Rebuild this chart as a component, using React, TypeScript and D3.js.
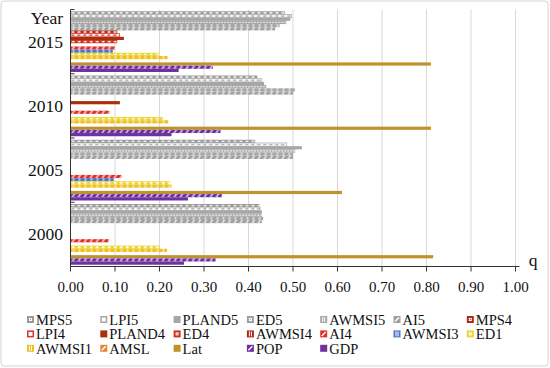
import React from 'react';
import * as d3 from 'd3';

// ---------- data ----------
const years = ['2015', '2010', '2005', '2000'];
const seriesNames = ['MPS5', 'LPI5', 'PLAND5', 'ED5', 'AWMSI5', 'AI5', 'MPS4', 'LPI4', 'PLAND4', 'ED4', 'AWMSI4', 'AI4', 'AWMSI3', 'ED1', 'AWMSI1', 'AMSL', 'Lat', 'POP', 'GDP'];
const q2015 = [0.482, 0.497, 0.494, 0.485, 0.47, 0.46, 0.105, 0.11, 0.12, 0.105, 0, 0.1, 0.095, 0.198, 0.218, 0, 0.81, 0.32, 0.243];
const q2010 = [0.42, 0.43, 0.435, 0.44, 0.505, 0.5, 0, 0, 0.111, 0, 0, 0.088, 0, 0.208, 0.22, 0, 0.81, 0.337, 0.227];
const q2005 = [0.415, 0.486, 0.52, 0.505, 0.5, 0.5, 0, 0, 0, 0, 0, 0.115, 0.097, 0.224, 0.227, 0, 0.61, 0.34, 0.264];
const q2000 = [0.425, 0.426, 0.43, 0.43, 0.433, 0.43, 0, 0, 0, 0, 0, 0.086, 0, 0.2, 0.217, 0, 0.815, 0.326, 0.255];
const valuesByYear: Record<string, number[]> = { '2015': q2015, '2010': q2010, '2005': q2005, '2000': q2000 };
const xTicks = [0, 0.1, 0.2, 0.3, 0.4, 0.5, 0.6, 0.7, 0.8, 0.9, 1.0];

// ---------- styles ----------
type Kind = 'solid' | 'brick' | 'outline' | 'dots' | 'vline' | 'diag' | 'square';
const seriesKinds: Kind[] = ['brick', 'outline', 'solid', 'dots', 'vline', 'diag', 'brick', 'outline', 'solid', 'square', 'vline', 'diag', 'vline', 'square', 'vline', 'diag', 'solid', 'diag', 'solid'];
const seriesColors = ['#9a9a9a', '#a6a6a6', '#a6a6a6', '#a0a0a0', '#a6a6a6', '#a0a0a0', '#b02818', '#e03030', '#a8300c', '#d03020', '#b02818', '#e03028', '#5070d0', '#e8d830', '#f0c020', '#e08838', '#c0922e', '#6a2fa0', '#7030a0'];

const FONT = '"Liberation Serif", "Times New Roman", "Tinos", serif';
const W = 550, H = 368;

function barPattern(id: string, kind: Kind, color: string, h: number) {
  const w = 6;
  let content: React.ReactNode = null;
  if (kind === 'solid') content = <rect width={w} height={h} fill={color} />;
  if (kind === 'brick') content = (<g><rect width={w} height={h} fill={color} /><rect x={1} y={h * 0.3} width={3} height={h * 0.4} fill="#fff" /></g>);
  if (kind === 'square') content = (<g><rect width={w} height={h} fill={color} /><rect x={1.5} y={h * 0.25} width={2.5} height={h * 0.5} fill="#fff" /></g>);
  if (kind === 'outline') content = (<g><rect width={w} height={h} fill="#fff" /><rect x={0.5} y={h * 0.3} width={3.5} height={h * 0.4} fill={color} /></g>);
  if (kind === 'dots') content = (<g><rect width={w} height={h} fill={color} /><rect x={0.7} y={h * 0.25} width={1.8} height={h * 0.5} rx={0.7} fill="#fff" /><rect x={3.7} y={h * 0.25} width={1.8} height={h * 0.5} rx={0.7} fill="#fff" /></g>);
  if (kind === 'vline') content = (<g><rect width={w} height={h} fill={color} /><rect x={2.5} y={0} width={1} height={h} fill="#fff" /></g>);
  if (kind === 'diag') content = (<g><rect width={w} height={h} fill={color} /><polygon points={`1,${h} 2.4,${h} 4.6,0 3.2,0`} fill="#fff" /></g>);
  return (
    <pattern key={id} id={id} patternUnits="userSpaceOnUse" width={w} height={h}>
      {content}
    </pattern>
  );
}

function LegendMarker({ kind, color }: { kind: Kind; color: string }) {
  const s = 7;
  if (kind === 'solid') return <rect width={s} height={s} fill={color} />;
  if (kind === 'outline') return <rect x={0.75} y={0.75} width={s - 1.5} height={s - 1.5} fill="#fff" stroke={color} strokeWidth={1.5} />;
  if (kind === 'brick' || kind === 'square' || kind === 'dots') return (
    <g><rect width={s} height={s} fill={color} /><rect x={2} y={2} width={3} height={3} fill="#fff" /><rect x={3} y={3} width={1} height={1} fill={color} /></g>
  );
  if (kind === 'vline') return (
    <g><rect width={s} height={s} fill={color} /><rect x={2} y={1} width={1} height={5} fill="#fff" /><rect x={4} y={1} width={1} height={5} fill="#fff" /></g>
  );
  return (
    <g><rect width={s} height={s} fill={color} /><path d="M1.5,5.5 L5.5,1.5" stroke="#fff" strokeWidth={1.4} /></g>
  );
}

export default function App() {
  const x = d3.scaleLinear().domain([0, 1]).range([70.5, 515.5]);
  const y0 = d3.scaleBand<string>().domain(years).range([9.5, 266.5]).paddingInner(0.055).paddingOuter(0.0275);
  const y1 = d3.scaleBand<string>().domain(seriesNames).range([0, y0.bandwidth()]);
  const bh = y1.bandwidth();
  const plotTop = 9.5, plotBottom = 266.5;
  const boundaries = years.map((yr) => (y0(yr) as number) - (y0.step() * y0.paddingInner()) / 2);
  boundaries.push(plotBottom);

  const legendCols = 7;
  const legendX = (c: number) => 27 + c * 73.3;
  const legendY = (r: number) => 320 + r * 14.4;
  const txt = { fontFamily: FONT };

  return (
    <svg width={W} height={H} style={{ position: 'absolute', left: 0, top: 0, background: '#fff', fontFamily: FONT }}>
      <defs>
        {seriesNames.map((s, i) => barPattern(`bp${i}`, seriesKinds[i], seriesColors[i], bh))}
      </defs>
      <rect x={1} y={1} width={W - 3} height={H - 3} rx={3} fill="#fff" stroke="#d4d4d4" strokeWidth={1} />

      {/* gridlines */}
      {xTicks.slice(1).map((t) => (
        <line key={t} x1={x(t)} x2={x(t)} y1={plotTop} y2={plotBottom} stroke="#d9d9d9" strokeWidth={1} />
      ))}

      {/* bars */}
      {years.map((yr) => (
        <g key={yr}>
          {seriesNames.map((s, i) => {
            const v = valuesByYear[yr][i];
            if (!v) return null;
            const yy = (y0(yr) as number) + (y1(s) as number);
            const kind = seriesKinds[i];
            return (
              <g key={s} transform={`translate(${x(0)},${yy})`}>
                <rect width={x(v) - x(0)} height={bh} fill={`url(#bp${i})`}
                  stroke={kind === 'outline' ? seriesColors[i] : 'none'} strokeWidth={0.7} />
              </g>
            );
          })}
        </g>
      ))}

      {/* axes */}
      <line x1={x(0)} x2={x(1) + 4} y1={plotBottom} y2={plotBottom} stroke="#333" strokeWidth={1} />
      {xTicks.map((t) => (
        <g key={t}>
          <line x1={x(t)} x2={x(t)} y1={plotBottom} y2={plotBottom + 5} stroke="#333" strokeWidth={1} />
          <text x={x(t)} y={292} textAnchor="middle" fontSize={15} fill="#111" style={txt}>{t.toFixed(2)}</text>
        </g>
      ))}
      <line x1={x(0)} x2={x(0)} y1={plotTop} y2={plotBottom} stroke="#333" strokeWidth={1} />
      {boundaries.map((b, i) => (
        <line key={i} x1={x(0)} x2={x(0) + 4} y1={b} y2={b} stroke="#333" strokeWidth={1} />
      ))}
      {years.map((yr) => (
        <text key={yr} x={63} y={(y0(yr) as number) + y0.bandwidth() / 2 + 6} textAnchor="end" fontSize={17.5} fill="#111" style={txt}>{yr}</text>
      ))}
      <text x={63} y={24} textAnchor="end" fontSize={17.5} fill="#111" style={txt}>Year</text>
      <text x={533} y={266} textAnchor="middle" fontSize={17.5} fill="#111" style={txt}>q</text>

      {/* legend */}
      {seriesNames.map((s, i) => {
        const c = i % legendCols, r = Math.floor(i / legendCols);
        return (
          <g key={s} transform={`translate(${legendX(c)},${legendY(r)})`}>
            <g transform="translate(0,-4)"><LegendMarker kind={seriesKinds[i]} color={seriesColors[i]} /></g>
            <text x={9} y={5} fontSize={14.5} fill="#111" style={txt}>{s}</text>
          </g>
        );
      })}
    </svg>
  );
}
